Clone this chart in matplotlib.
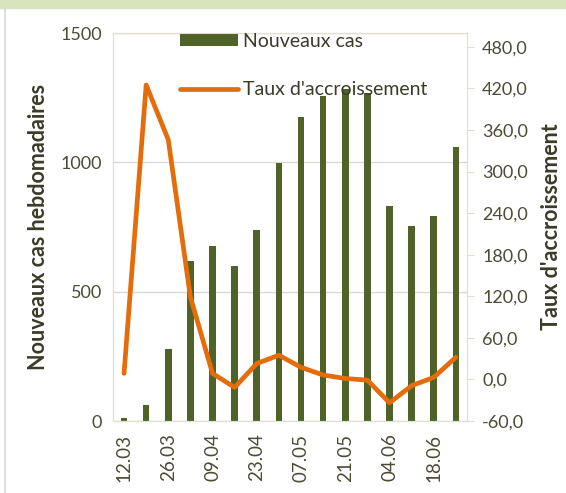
import matplotlib.pyplot as plt
import numpy as np

# Semaines (début de semaine)
semaines = ["12.03", "19.03", "26.03", "02.04", "09.04", "16.04", "23.04", "30.04",
            "07.05", "14.05", "21.05", "28.05", "04.06", "11.06", "18.06", "25.06"]
nouveaux_cas = [10, 62, 278, 617, 678, 599, 737, 996,
                1174, 1256, 1282, 1268, 832, 755, 794, 1059]
taux = [8.8, 425, 346, 119, 8.7, -11.5, 23, 35,
        17.5, 6.4, 1.4, -1, -33.7, -9, 3, 32]

vert = "#4F6228"
orange = "#E46C0A"
texte = "#4d4a36"
titre = "#3c3a28"
bordure = "#e3dfcf"

plt.rcParams['font.family'] = ['Lato', 'DejaVu Sans']

fig = plt.figure(figsize=(5.66, 4.93), dpi=100)
fig.patches.append(plt.Rectangle((0, 0.984), 1, 0.016, transform=fig.transFigure,
                                 color="#d7e4bd", zorder=0))
fig.lines.append(plt.Line2D([0.009, 0.009], [0, 0.984], transform=fig.transFigure,
                            color="#d9d9d9", lw=1.2))

ax = fig.add_axes([0.1996, 0.146, 0.6254, 0.787])
x = np.arange(len(semaines))
ax.bar(x, nouveaux_cas, width=0.3, color=vert, label="Nouveaux cas", zorder=2)
ax.set_xlim(-0.5, len(semaines) - 0.5)
ax.set_ylim(0, 1500)
ax.set_yticks([0, 500, 1000, 1500])
ax.grid(axis="y", color="#d9d9d9", lw=1, zorder=0)
ax.set_xticks(x[::2])
ax.set_xticklabels(semaines[::2], rotation=90)
ax.tick_params(axis="both", length=0, colors=texte, labelsize=13, pad=8)
ax.tick_params(axis="x", pad=9, labelsize=13.5)
for s in ax.spines.values():
    s.set_color(bordure)
    s.set_linewidth(0.8)
ax.set_ylabel("Nouveaux cas hebdomadaires", fontsize=15.5, fontweight="bold",
              color=titre, labelpad=8)

ax2 = ax.twinx()
ax2.plot(x, taux, color=orange, lw=3.4, label="Taux d'accroissement", zorder=3,
         solid_capstyle="round", solid_joinstyle="round")
ax2.set_ylim(-60, 500)
ax2.set_yticks(np.arange(-60, 481, 60))
ax2.set_yticklabels([f"{v:.1f}".replace(".", ",") for v in np.arange(-60, 481, 60)])
ax2.tick_params(axis="y", length=5, color=bordure, colors=texte, labelsize=13, pad=6)
ax2.tick_params(axis="y", color=bordure)
for s in ax2.spines.values():
    s.set_color(bordure)
    s.set_linewidth(0.8)
ax2.set_ylabel("Taux d'accroissement", fontsize=15.5, fontweight="bold",
               color=titre, labelpad=9)

h1, l1 = ax.get_legend_handles_labels()
h2, l2 = ax2.get_legend_handles_labels()
leg = ax2.legend(h1 + h2, l1 + l2, loc="upper left", bbox_to_anchor=(0.14, 1.045),
                 frameon=False, fontsize=14, labelcolor=titre, handlelength=3.0,
                 handleheight=0.55, handletextpad=0.25, labelspacing=1.6)

fig.savefig("out.png", dpi=100)
